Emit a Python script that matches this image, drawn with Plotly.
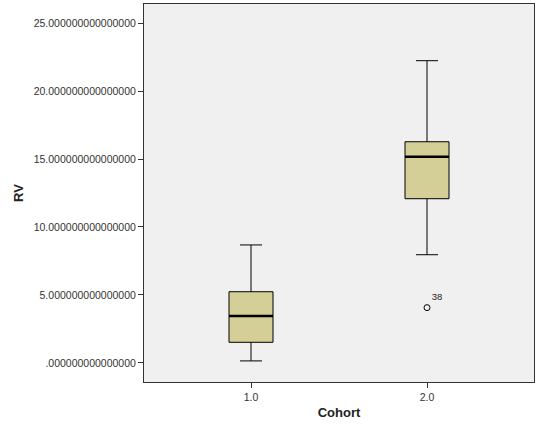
import plotly.graph_objects as go

cohorts = [1.0, 2.0]
q1 = [1.52, 12.08]
median = [3.46, 15.17]
q3 = [5.24, 16.27]
lower_fence = [0.15, 7.96]
upper_fence = [8.68, 22.23]
outlier_x = [2.0]
outlier_y = [4.07]
outlier_labels = ["38"]
y_tickvals = [0, 5, 10, 15, 20, 25]
y_ticktext = [".000000000000000", "5.000000000000000", "10.000000000000000",
              "15.000000000000000", "20.000000000000000", "25.000000000000000"]
x_tickvals = [1.0, 2.0]
x_ticktext = ["1.0", "2.0"]

box_width = 0.25
fill = "#d4cf97"

fig = go.Figure()
fig.add_trace(go.Box(
    x=cohorts, q1=q1, median=median, q3=q3,
    lowerfence=lower_fence, upperfence=upper_fence,
    width=box_width, whiskerwidth=0.5,
    fillcolor=fill, line=dict(color="black", width=1),
    boxpoints=False, showlegend=False, hoverinfo="skip"))

# thicker median lines
for c, m in zip(cohorts, median):
    fig.add_trace(go.Scatter(
        x=[c - box_width / 2, c + box_width / 2], y=[m, m], mode="lines",
        line=dict(color="black", width=2.5), showlegend=False, hoverinfo="skip"))

fig.add_trace(go.Scatter(
    x=outlier_x, y=outlier_y, mode="markers+text",
    marker=dict(symbol="circle-open", size=6, color="black", line=dict(width=1)),
    text=outlier_labels, textposition="top right",
    textfont=dict(family="Liberation Sans, Arial", size=9.5, color="#222222"),
    showlegend=False, hoverinfo="skip"))

fig.update_layout(
    width=540, height=432,
    margin=dict(l=144, r=6, t=4, b=50),
    paper_bgcolor="white", plot_bgcolor="#f0f0f0",
    font=dict(family="Liberation Sans, Arial", size=10.5, color="#333333"),
)
fig.update_xaxes(
    range=[0.392, 2.608], tickvals=x_tickvals, ticktext=x_ticktext,
    showgrid=False, zeroline=False, showline=True, mirror=True, automargin=False,
    linecolor="#333333", linewidth=1, ticks="outside", ticklen=5, tickcolor="#333333",
    title=dict(text="<b>Cohort</b>", font=dict(size=13, color="#222222"), standoff=6))
fig.update_yaxes(
    range=[-1.4, 26.4], tickvals=y_tickvals, ticktext=y_ticktext,
    showgrid=False, zeroline=False, showline=True, mirror=True, automargin=False,
    linecolor="#333333", linewidth=1, ticks="outside", ticklen=5, tickcolor="#333333",
    title=dict(text="<b>RV</b>", font=dict(size=13, color="#222222"), standoff=7))

fig.write_html("out.html", config={"displayModeBar": False},
               post_script="document.body.style.margin='0';document.body.style.overflow='hidden';")
